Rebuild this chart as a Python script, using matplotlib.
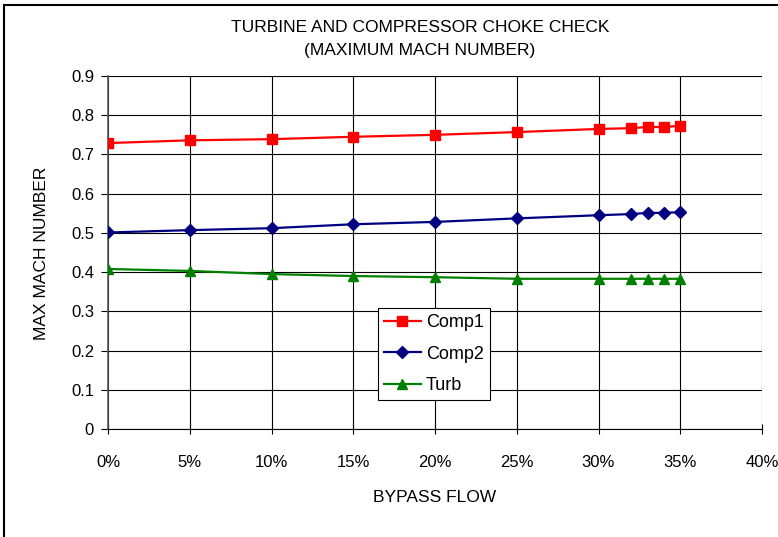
import matplotlib.pyplot as plt
from matplotlib.patches import Rectangle
from matplotlib.ticker import FuncFormatter

narrow = ['Liberation Sans Narrow', 'Liberation Sans', 'DejaVu Sans']
regular = ['Liberation Sans', 'DejaVu Sans']

# bypass flow (fraction) and max mach numbers
bypass = [0.00, 0.05, 0.10, 0.15, 0.20, 0.25, 0.30, 0.32, 0.33, 0.34, 0.35]
comp1 = [0.729, 0.736, 0.739, 0.745, 0.750, 0.757, 0.765, 0.767, 0.770, 0.770, 0.773]
comp2 = [0.501, 0.507, 0.512, 0.522, 0.528, 0.537, 0.545, 0.548, 0.551, 0.551, 0.553]
turb = [0.408, 0.403, 0.395, 0.390, 0.387, 0.383, 0.383, 0.383, 0.383, 0.383, 0.383]

x_ticks = [0, 0.05, 0.10, 0.15, 0.20, 0.25, 0.30, 0.35, 0.40]
y_ticks = [0, 0.1, 0.2, 0.3, 0.4, 0.5, 0.6, 0.7, 0.8, 0.9]

fig = plt.figure(figsize=(7.78, 5.37), dpi=100)
ax = fig.add_axes([108/778, 1-429/537, 654/778, 353/537])

ax.plot(bypass, comp1, color='#ff0000', lw=1.6, marker='s', ms=7, label='Comp1', zorder=3)
ax.plot(bypass, comp2, color='#000080', lw=1.6, marker='D', ms=6, label='Comp2', zorder=3)
ax.plot(bypass, turb, color='#008000', lw=1.6, marker='^', ms=7.5, label='Turb', zorder=3)

ax.set_xlim(0, 0.40)
ax.set_ylim(0, 0.9)
ax.set_xticks(x_ticks)
ax.set_yticks(y_ticks)
ax.xaxis.set_major_formatter(FuncFormatter(lambda v, p: f'{v*100:.0f}%'))
ax.yaxis.set_major_formatter(FuncFormatter(lambda v, p: '0' if v == 0 else f'{v:.1f}'))
ax.grid(True, color='black', lw=0.8)
ax.set_axisbelow(True)
for s in ['top', 'right']:
    ax.spines[s].set_visible(False)
ax.spines['left'].set_color('#555555')
ax.spines['left'].set_linewidth(1.2)
ax.spines['bottom'].set_color('black')
ax.tick_params(axis='y', direction='out', length=5, pad=5, labelsize=12)
ax.tick_params(axis='x', direction='inout', length=7, pad=15, labelsize=12)
for t in ax.get_xticklabels():
    t.set_family(narrow)
for t in ax.get_yticklabels():
    t.set_family(regular)

leg = ax.legend(loc='upper left', bbox_to_anchor=(0.413, 0.343), fancybox=False,
                edgecolor='black', framealpha=1, prop={'family': regular, 'size': 13},
                borderaxespad=0, handlelength=2.0, labelspacing=0.8, handletextpad=0.3,
                borderpad=0.35)
leg.get_frame().set_linewidth(0.8)

fig.text(420/778, 1-27/537, 'TURBINE AND COMPRESSOR CHOKE CHECK', ha='center', va='center',
         fontsize=12.5, family=narrow)
fig.text(420/778, 1-50/537, '(MAXIMUM MACH NUMBER)', ha='center', va='center',
         fontsize=12.5, family=narrow)
fig.text(435/778, 1-497/537, 'BYPASS FLOW', ha='center', va='center', fontsize=12.5, family=narrow)
fig.text(42/778, 1-253/537, 'MAX MACH NUMBER', ha='center', va='center', rotation=90,
         fontsize=12.5, family=narrow)

fig.patches.append(Rectangle((4/778, -0.1), 1.2, 1.1 - 5/537, transform=fig.transFigure,
                             fill=False, edgecolor='black', lw=1.5))

fig.savefig('out.png', dpi=100)
